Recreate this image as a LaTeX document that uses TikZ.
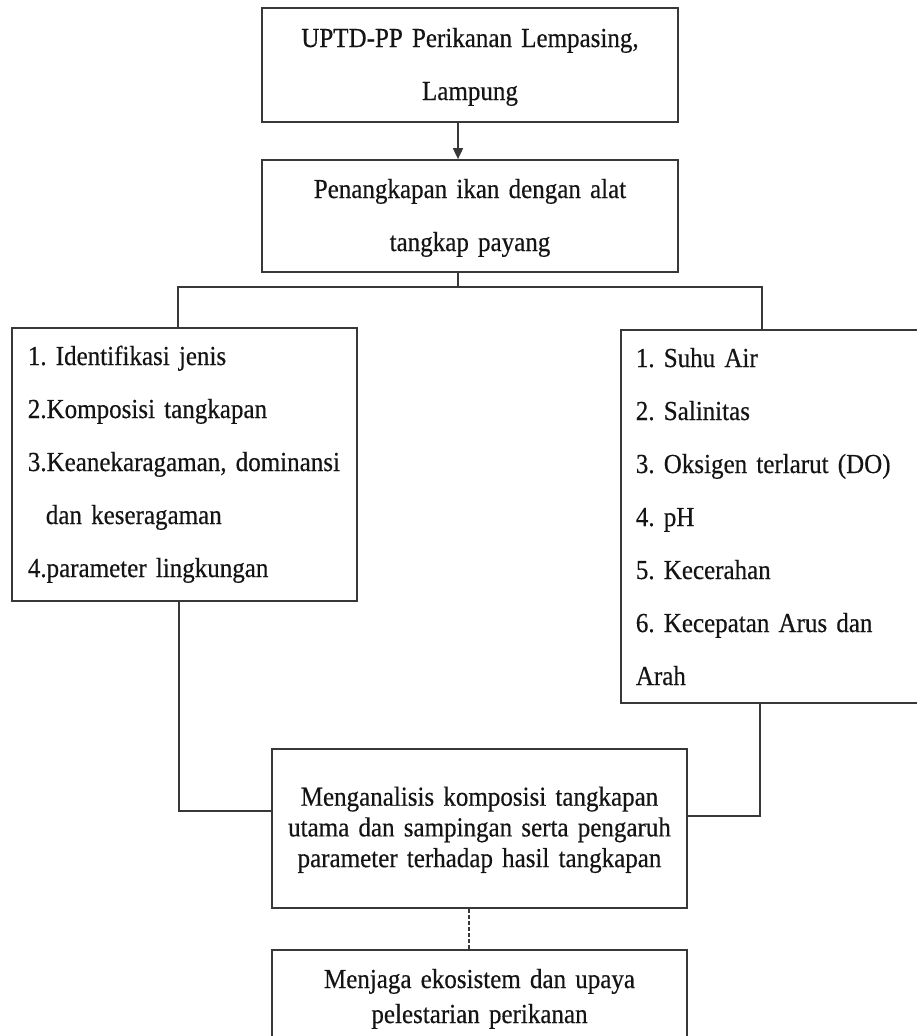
\documentclass[tikz,border=0pt]{standalone}
\usepackage{fontspec}
\setmainfont{Liberation Serif}[FakeStretch=0.91, FakeBold=0.4]
\usetikzlibrary{arrows.meta}
\frenchspacing
\begin{document}
\begin{tikzpicture}[x=1pt,y=-1pt,
  box/.style={draw=black!78, line width=1.7pt, inner sep=0pt, text=black!92},
  cbox/.style={box, align=center, anchor=base, font=\fontsize{27.5}{53}\selectfont},
  lbox/.style={box, align=left, anchor=base west, inner ysep=0pt, font=\fontsize{27.5}{53}\selectfont},
  conn/.style={draw=black!78, line width=1.7pt},
]
\useasboundingbox (0,0) rectangle (917,1036);
\clip (0,0) rectangle (917,1036);

\node[cbox, text width=416pt, text height=39pt, text depth=75pt] (top) at (470,47)
  {\mbox{UPTD-PP Perikanan Lempasing,}\\Lampung};
\node[cbox, text width=416pt, text height=38pt, text depth=74pt] (b2) at (470,198)
  {\mbox{Penangkapan ikan dengan alat}\\tangkap payang};

\node[lbox, inner xsep=16pt, text width=313pt, text height=37pt, text depth=236pt] (left) at (11,365)
  {\mbox{1. Identifikasi jenis}\\\mbox{2.Komposisi tangkapan}\\\mbox{3.Keanekaragaman, dominansi}\\\hspace*{18pt}\mbox{dan keseragaman}\\\mbox{4.parameter lingkungan}};

\node[lbox, inner xsep=15pt, text width=300pt, text height=37pt, text depth=336pt] (right) at (620,367)
  {\mbox{1. Suhu Air}\\\mbox{2. Salinitas}\\\mbox{3. Oksigen terlarut (DO)}\\\mbox{4. pH}\\\mbox{5. Kecerahan}\\\mbox{6. Kecepatan Arus dan}\\Arah};

\node[cbox, font=\fontsize{27.5}{30.7}\selectfont, text width=415pt, text height=56.7pt, text depth=102.3pt] (mid) at (479.5,805.7)
  {\mbox{Menganalisis komposisi tangkapan}\\\mbox{utama dan sampingan serta pengaruh}\\\mbox{parameter terhadap hasil tangkapan}};

\node[cbox, font=\fontsize{27.5}{35}\selectfont, text width=415pt, text height=38pt, text depth=130pt] (bot) at (479.5,988)
  {\mbox{Menjaga ekosistem dan upaya}\\\mbox{pelestarian perikanan}};

\coordinate (ax) at (458,0);
\draw[conn, -{Triangle[length=11pt,width=10pt]}] (top.south -| ax) -- (b2.north -| ax);

\coordinate (br) at (458,287);
\coordinate (lx) at (178,287);
\coordinate (rx) at (762,287);
\draw[conn] (b2.south -| br) -- (br);
\draw[conn] (left.north -| lx) -- (lx) -- (rx) -- (right.north -| rx);

\coordinate (lc) at (179,811);
\draw[conn] (left.south -| lc) |- (lc -| mid.west);
\coordinate (rc) at (760,816);
\draw[conn] (right.south -| rc) |- (rc -| mid.east);

\coordinate (dx) at (469,0);
\draw[conn, line width=1.5pt, dash pattern=on 4pt off 2pt] (mid.south -| dx) -- (bot.north -| dx);
\end{tikzpicture}
\end{document}
